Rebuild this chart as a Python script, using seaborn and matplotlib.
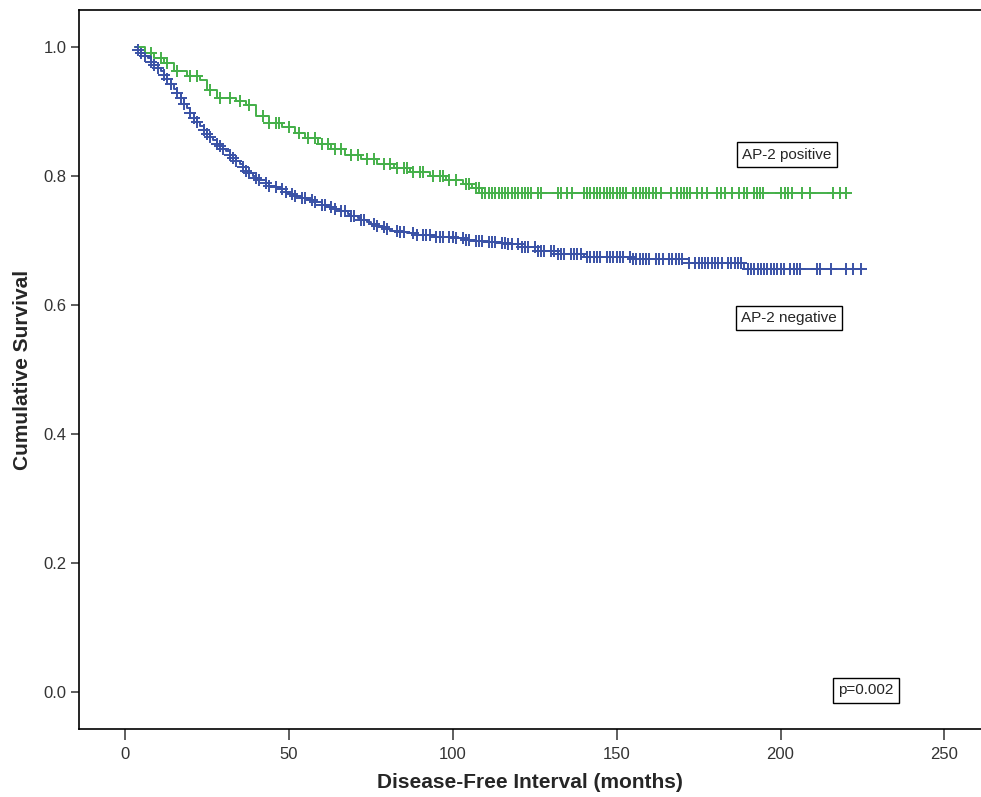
import numpy as np
import pandas as pd
import matplotlib
matplotlib.use("Agg")
import matplotlib.pyplot as plt
import seaborn as sns

# Kaplan-Meier step points (months, cumulative survival)
pos_times = [3, 6, 9, 12, 15, 19, 23, 25, 28, 34, 37, 40, 44, 48, 52, 55, 59,
             63, 67, 72, 77, 82, 87, 93, 98, 103, 106, 109, 220]
pos_surv = [1.0, 0.99, 0.982, 0.975, 0.962, 0.955, 0.948, 0.933, 0.921, 0.916,
            0.91, 0.893, 0.882, 0.876, 0.866, 0.858, 0.85, 0.841, 0.832, 0.826,
            0.818, 0.812, 0.806, 0.8, 0.794, 0.787, 0.781, 0.774, 0.774]

neg_times = [3, 4, 5, 6, 7, 8, 9, 10, 11, 12, 13, 14, 15, 16, 17, 18, 19, 20,
             21, 22, 23, 24, 25, 26, 27, 28, 29, 30, 31, 32, 33, 34, 35, 36,
             37, 38, 39, 40, 41, 43, 44, 46, 47, 49, 50, 52, 54, 56, 58, 60,
             62, 64, 66, 68, 69, 71, 72, 74, 75, 77, 78, 80, 81, 84, 86, 89,
             92, 95, 98, 101, 104, 107, 110, 114, 117, 121, 126, 132, 140,
             155, 172, 189, 225]
neg_surv = [1.0, 0.995, 0.99, 0.986, 0.982, 0.977, 0.972, 0.967, 0.962,
            0.956, 0.95, 0.943, 0.935, 0.928, 0.92, 0.912, 0.905, 0.897, 0.89,
            0.884, 0.878, 0.871, 0.865, 0.86, 0.855, 0.85, 0.846, 0.842,
            0.838, 0.833, 0.828, 0.823, 0.818, 0.813, 0.808, 0.804, 0.8, 0.796,
            0.793, 0.789, 0.785, 0.782, 0.779, 0.775, 0.772, 0.769, 0.766,
            0.762, 0.759, 0.755, 0.752, 0.748, 0.745, 0.741, 0.738, 0.734,
            0.731, 0.728, 0.725, 0.722, 0.72, 0.717, 0.715, 0.713, 0.711,
            0.709, 0.708, 0.706, 0.705, 0.703, 0.701, 0.699, 0.698, 0.696,
            0.694, 0.689, 0.684, 0.679, 0.675, 0.671, 0.665, 0.655, 0.655]

# censored cases (months)
pos_censor = [8, 11, 13, 16, 20, 22, 26, 29, 32, 35, 38, 42, 44, 46, 47, 50,
              53, 56, 58, 60, 62, 64, 66, 69, 71, 74, 76, 79, 81, 83, 85, 86,
              88, 90, 91, 94, 96, 97, 99, 101, 104, 105, 107,
              108, 109, 110, 111, 112, 113, 114, 115, 116, 117, 118, 119, 120,
              121, 122, 123, 124, 126, 127, 132, 133, 135, 136.5, 140, 141,
              142, 143, 144, 145, 146, 147, 148, 149, 150, 151, 152, 153, 155,
              156, 157, 158, 159, 160, 161, 162, 163.5, 166.5, 168.5, 169.5,
              170.5, 171.5, 172.5, 174.6, 176, 177.6, 180.6, 181.7, 183.2,
              185.2, 187.2, 188.8, 189.8, 191.8, 192.8, 193.8, 194.8, 200,
              201.4, 202.4, 203.4, 206.5, 209, 216, 218, 220]
neg_censor = [4, 5, 6, 8, 9, 10, 12, 13, 14, 16, 17, 18, 20, 21, 22, 24, 25,
              26, 28, 29, 30, 32, 33, 34, 36, 37, 38, 40, 41, 43, 44, 46, 48,
              49, 51, 52, 54, 55, 57, 58, 60, 61, 63, 64, 66, 67, 69, 70, 72,
              73, 76, 77, 79, 80, 83, 84, 85, 88, 89, 91, 92, 93, 95, 96, 97,
              99, 100, 101, 103, 104, 105, 107, 108, 109, 111, 112, 113, 115,
              116, 117, 118, 120, 121, 122, 123, 125, 126, 127, 128, 130, 131,
              132, 133, 134, 136, 137, 138, 139, 141, 142, 143, 144, 145, 147,
              148, 149, 150, 151, 152, 154, 155, 156, 157, 158, 159, 160, 162,
              163, 164, 166, 167, 168, 169, 170, 172, 174, 175, 176, 177, 178,
              179, 180, 181, 182, 184, 185, 186, 187, 188, 190, 191, 192, 193,
              194, 195, 196, 197, 198, 199, 200, 201, 203, 204, 205, 206, 211,
              212, 215.5, 220, 222, 224.5]

green = "#45b04a"
blue = "#3a52a6"


def on_curve(times, surv, cens):
    idx = np.searchsorted(times, cens, side="right") - 1
    return np.asarray(surv)[np.clip(idx, 0, len(surv) - 1)]


sns.set_style("white")
plt.rcParams["font.family"] = ["Liberation Sans", "DejaVu Sans"]

fig = plt.figure(figsize=(9.81, 7.97), dpi=100)
ax = fig.add_axes([0.0805, 0.0853, 0.919, 0.9022])

for times, surv, cens, col in [(pos_times, pos_surv, pos_censor, green),
                               (neg_times, neg_surv, neg_censor, blue)]:
    sns.lineplot(x=times, y=surv, ax=ax, color=col, linewidth=1.4,
                 drawstyle="steps-post", estimator=None, sort=False)
    sns.scatterplot(x=cens, y=on_curve(times, surv, cens), ax=ax, color=col,
                    marker="+", s=65, linewidth=1.4)

ax.set_xlim(-14, 261)
ax.set_ylim(-0.057, 1.057)
ax.set_xticks([0, 50, 100, 150, 200, 250])
ax.set_yticks([0.0, 0.2, 0.4, 0.6, 0.8, 1.0])
ax.set_yticklabels(["0.0", "0.2", "0.4", "0.6", "0.8", "1.0"])
ax.tick_params(axis="x", direction="out", length=8, width=1.1, labelsize=12,
               colors="#333333", bottom=True, pad=5)
ax.tick_params(axis="y", direction="out", length=6, width=1.1, labelsize=12,
               colors="#333333", left=True, pad=3)

for s in ["left", "bottom", "top"]:
    ax.spines[s].set_color("black")
    ax.spines[s].set_linewidth(1.2)
ax.spines["right"].set_visible(False)

ax.set_xlabel("Disease-Free Interval (months)", fontsize=15, fontweight="bold",
              labelpad=8)
ax.set_ylabel("Cumulative Survival", fontsize=15, fontweight="bold",
              labelpad=8)

box = dict(boxstyle="square,pad=0.35", facecolor="white", edgecolor="black",
           linewidth=1.0)
ax.text(202, 0.833, "AP-2 positive", fontsize=11, ha="center", va="center",
        bbox=box)
ax.text(202.5, 0.580, "AP-2 negative", fontsize=11, ha="center", va="center",
        bbox=box)
ax.text(226, 0.003, "p=0.002", fontsize=11, ha="center", va="center", bbox=box)

fig.savefig("out.png", dpi=100)
